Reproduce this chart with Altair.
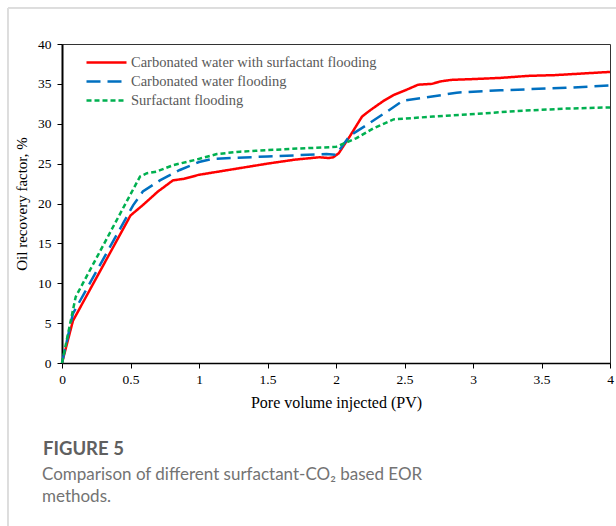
import altair as alt
import pandas as pd

series_names = ["Carbonated water with surfactant flooding",
                "Carbonated water flooding",
                "Surfactant flooding"]
colors = ["#ff0000", "#0070c0", "#00b050"]
dashes = [[1, 0], [14, 7], [5, 3]]

red_x = [0, 0.08, 0.5, 0.59, 0.7, 0.81, 0.89, 1.0, 1.25, 1.5, 1.7, 1.88, 1.95, 1.98, 2.02,
         2.1, 2.19, 2.25, 2.35, 2.42, 2.52, 2.6, 2.7, 2.76, 2.84, 3.0, 3.2, 3.4, 3.6, 3.8, 4.0]
red_y = [0, 5.3, 18.5, 19.8, 21.5, 22.9, 23.1, 23.6, 24.3, 25.0, 25.5, 25.8, 25.7, 25.8, 26.3,
         28.4, 30.9, 31.7, 32.9, 33.6, 34.3, 34.9, 35.0, 35.3, 35.5, 35.6, 35.75, 36.0, 36.1, 36.3, 36.5]

blue_x = [0, 0.08, 0.52, 0.59, 0.715, 0.86, 1.0, 1.1, 1.5, 1.93, 2.0, 2.1, 2.22, 2.37, 2.49,
          2.66, 2.88, 3.2, 3.68, 4.0]
blue_y = [0, 6.2, 19.8, 21.5, 22.9, 24.2, 25.2, 25.6, 25.9, 26.2, 26.1, 28.5, 29.8, 31.5, 32.9,
          33.3, 33.9, 34.2, 34.5, 34.8]

green_x = [0, 0.1, 0.57, 0.62, 0.69, 0.81, 0.98, 1.13, 1.3, 1.5, 1.74, 2.0, 2.15, 2.27, 2.42,
           2.71, 3.08, 3.32, 3.68, 4.0]
green_y = [0, 8.3, 23.4, 23.8, 24.0, 24.8, 25.5, 26.2, 26.5, 26.7, 26.9, 27.1, 28.2, 29.4, 30.55,
           30.9, 31.3, 31.6, 31.9, 32.05]

fig_label = "FIGURE 5"
caption_lines = ["Comparison of different surfactant-CO₂ based EOR", "methods."]

rows = []
for name, xs, ys in zip(series_names, [red_x, blue_x, green_x], [red_y, blue_y, green_y]):
    for i, (a, b) in enumerate(zip(xs, ys)):
        rows.append({"series": name, "pv": a, "rf": b, "order": i})
df = pd.DataFrame(rows)

serif = "Liberation Serif"

legend_cfg = dict(title=None, orient="none", legendX=33, legendY=7,
                  symbolType="M-2,0H2", symbolSize=400,
                  symbolStrokeWidth=2.5, labelFont=serif,
                  labelFontSize=14.5, labelColor="#595959",
                  rowPadding=1, labelOffset=13, padding=0,
                  labelLimit=400)

lines = alt.Chart(df).mark_line(strokeWidth=2.5).encode(
    x=alt.X("pv:Q", scale=alt.Scale(domain=[0, 4], nice=False),
            axis=alt.Axis(values=[0, 0.5, 1, 1.5, 2, 2.5, 3, 3.5, 4], format="~g",
                          title="Pore volume injected (PV)", grid=False,
                          domainColor="black", domainWidth=1.5, tickColor="black",
                          tickSize=5, labelPadding=4, labelFont=serif, labelFontSize=13.5,
                          labelColor="black", titleFont=serif, titleFontSize=16,
                          titleFontWeight="normal", titleColor="black", titlePadding=9,
                          labelFlush=False)),
    y=alt.Y("rf:Q", scale=alt.Scale(domain=[0, 40], nice=False),
            axis=alt.Axis(values=[0, 5, 10, 15, 20, 25, 30, 35, 40],
                          title="Oil recovery factor, %", grid=False,
                          domainColor="black", domainWidth=2, tickColor="black",
                          tickSize=5, labelPadding=6, labelFont=serif, labelFontSize=13.5,
                          labelColor="black", titleFont=serif, titleFontSize=15,
                          titleFontWeight="normal", titleColor="black", titlePadding=8)),
    color=alt.Color("series:N", scale=alt.Scale(domain=series_names, range=colors),
                    legend=alt.Legend(**legend_cfg)),
    strokeDash=alt.StrokeDash("series:N", scale=alt.Scale(domain=series_names, range=dashes),
                              legend=alt.Legend(**legend_cfg)),
    order="order:Q",
)

frame_left = alt.Chart(df).mark_rule(color="#dddddd", strokeWidth=1).encode(
    x=alt.value(-54), y=alt.value(-36), y2=alt.value(482))
frame_top = alt.Chart(df).mark_rule(color="#dddddd", strokeWidth=1).encode(
    x=alt.value(-54), x2=alt.value(560), y=alt.value(-36))

fig_text = alt.Chart(pd.DataFrame({"t": [fig_label]})).mark_text(
    font="Lato", fontSize=18.5, fontWeight="bold", color="#606060",
    align="left", baseline="alphabetic").encode(
    text="t:N", x=alt.value(-19), y=alt.value(411))

cap_text = alt.Chart(pd.DataFrame({"t": [caption_lines]})).mark_text(
    font="Lato", fontSize=17, color="#737373", lineHeight=22,
    align="left", baseline="alphabetic").encode(
    text="t:N", x=alt.value(-20), y=alt.value(436))

chart = alt.layer(lines, frame_left, frame_top, fig_text, cap_text).properties(
    width=548, height=319,
    padding={"left": 62, "top": 44, "right": 6, "bottom": 163},
    autosize=alt.AutoSizeParams(type="none"),
).configure_view(stroke="#333333", strokeWidth=1)

chart.save("out.html", embed_options={"renderer": "svg", "actions": False})
